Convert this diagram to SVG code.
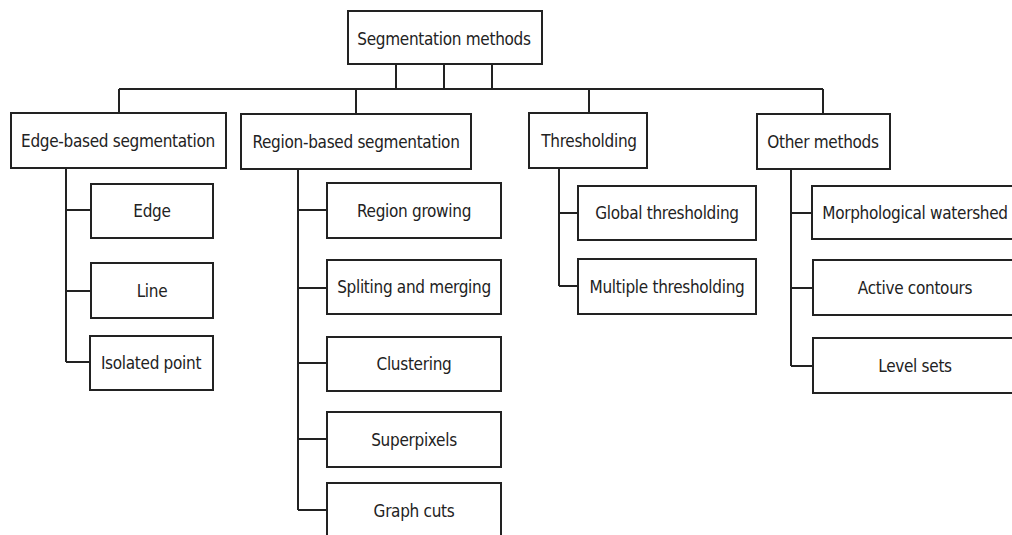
<svg xmlns="http://www.w3.org/2000/svg" width="1012" height="535" viewBox="0 0 1012 535">
<style>
rect.b{fill:#fff;stroke:#222;stroke-width:2}
text{font-family:"DejaVu Sans Condensed","DejaVu Sans","Liberation Sans",sans-serif;font-stretch:condensed;font-size:17px;letter-spacing:-0.3px;fill:#222;text-anchor:middle}
#connectors path{fill:none;stroke:#222;stroke-width:2}
</style>
<rect width="1012" height="535" fill="#fff"/>
<g id="connectors">
<path d="M396 64V89M444 64V89M492 64V89M119 89H823M119 89V113M356 89V114M589 89V113M823 89V114"/>
<path d="M66 168V362M66 210H91M66 291H91M66 362H90"/>
<path d="M298 169V510M298 210H327M298 288H327M298 363H327M298 439H327M298 510H327"/>
<path d="M559 168V286M559 213H578M559 286H578"/>
<path d="M791 169V366M791 213H812M791 288H812M791 366H812"/>
</g>
<g id="root"><rect class="b" x="348" y="11" width="194" height="53"/><text x="444" y="44.5">Segmentation methods</text></g>
<g id="edge-based"><rect class="b" x="11" y="113" width="215" height="55"/><text x="118" y="147">Edge-based segmentation</text></g>
<g id="region-based"><rect class="b" x="241" y="114" width="230" height="55"/><text x="356" y="148">Region-based segmentation</text></g>
<g id="thresholding"><rect class="b" x="529" y="113" width="118" height="55"/><text x="589" y="147">Thresholding</text></g>
<g id="other"><rect class="b" x="757" y="114" width="133" height="55"/><text x="823" y="148">Other methods</text></g>
<g id="edge"><rect class="b" x="91" y="184" width="122" height="54"/><text x="152" y="217">Edge</text></g>
<g id="line"><rect class="b" x="91" y="263" width="122" height="55"/><text x="152" y="297">Line</text></g>
<g id="isolated"><rect class="b" x="90" y="336" width="123" height="54"/><text x="151" y="369">Isolated point</text></g>
<g id="region-growing"><rect class="b" x="327" y="183" width="174" height="55"/><text x="414" y="217">Region growing</text></g>
<g id="splitting"><rect class="b" x="327" y="260" width="174" height="54"/><text x="414" y="293">Spliting and merging</text></g>
<g id="clustering"><rect class="b" x="327" y="337" width="174" height="54"/><text x="414" y="370">Clustering</text></g>
<g id="superpixels"><rect class="b" x="327" y="412" width="174" height="55"/><text x="414" y="446">Superpixels</text></g>
<g id="graph-cuts"><rect class="b" x="327" y="483" width="174" height="60"/><text x="414" y="517">Graph cuts</text></g>
<g id="global"><rect class="b" x="578" y="186" width="178" height="54"/><text x="667" y="219">Global thresholding</text></g>
<g id="multiple"><rect class="b" x="578" y="259" width="178" height="55"/><text x="667" y="293">Multiple thresholding</text></g>
<g id="morph"><rect class="b" x="812" y="186" width="210" height="53"/><text x="915" y="219">Morphological watershed</text></g>
<g id="active"><rect class="b" x="813" y="260" width="210" height="55"/><text x="915" y="294">Active contours</text></g>
<g id="level"><rect class="b" x="813" y="338" width="210" height="55"/><text x="915" y="372">Level sets</text></g>
</svg>
